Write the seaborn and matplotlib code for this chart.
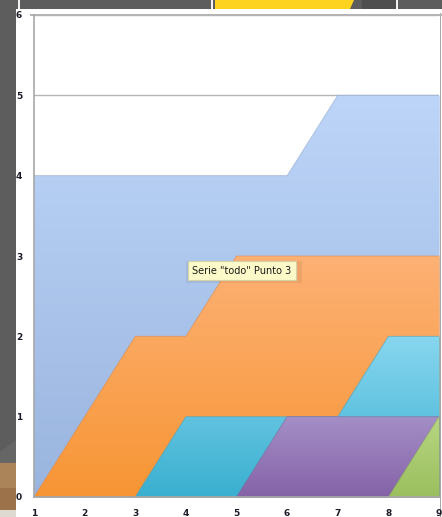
import numpy as np
import matplotlib
matplotlib.use("Agg")
import matplotlib.pyplot as plt
from matplotlib.patches import Rectangle, Polygon
from matplotlib.colors import LinearSegmentedColormap
import seaborn as sns

# Data: five overlapping area series over points 1..9
puntos = [1, 2, 3, 4, 5, 6, 7, 8, 9]
serie_azul = [4, 4, 4, 4, 4, 4, 5, 5, 5]
serie_todo = [0, 1, 2, 2, 3, 3, 3, 3, 3]
serie_cian = [0, 0, 0, 1, 1, 1, 1, 2, 2]
serie_morada = [0, 0, 0, 0, 0, 1, 1, 1, 1]
serie_verde = [0, 0, 0, 0, 0, 0, 0, 0, 1]
y_ticks = [0, 1, 2, 3, 4, 5, 6]

sns.set_style("white")
plt.rcParams["font.family"] = ["DejaVu Sans"]

W, H = 442, 517
fig = plt.figure(figsize=(W / 100, H / 100), dpi=100)

# Window surroundings drawn in pixel coordinates
bg = fig.add_axes([0, 0, 1, 1], zorder=-10)
bg.set_xlim(0, W)
bg.set_ylim(H, 0)
bg.axis("off")
bg.add_patch(Rectangle((0, 0), W, H, color="#5d5d5d", lw=0))
bg.add_patch(Rectangle((362, 0), 34, 9, color="#4f4f4f", lw=0))
bg.add_patch(Polygon([(215, 0), (354, 0), (350, 9), (215, 9)], color="#fdd31f", lw=0))
for xv in (18.5, 211.5, 396.5):
    bg.add_patch(Rectangle((xv - 1, 0), 2, 9, color="#f2f2f2", lw=0))
bg.add_patch(Polygon([(0, 463), (0, 452), (16, 440), (16, 463)], color="#666666", lw=0))
bg.add_patch(Rectangle((0, 463), 16, 25, color="#ab8559", lw=0))
bg.add_patch(Rectangle((0, 488), 16, 22, color="#9c724a", lw=0))
bg.add_patch(Rectangle((0, 510), 16, 7, color="#dedad2", lw=0))
bg.add_patch(Rectangle((16, 9), W - 16, H - 9, color="white", lw=0))
bg.add_patch(Rectangle((440, 13), 1.2, H - 13, color="#a8a8a8", lw=0))

# Plot area
x0, x1 = 34, 439
y0, y1 = 497, 15
ax = fig.add_axes([x0 / W, (H - y0) / H, (x1 - x0) / W, (y0 - y1) / H])
ax.set_facecolor("none")

series = [
    (serie_azul, "#bdd5f8", "#99b4de", "#8fa7cd"),
    (serie_todo, "#fdb175", "#f79534", "#d98a4c"),
    (serie_cian, "#88d6ef", "#3aafd0", "#4a9fb8"),
    (serie_morada, "#a48fc6", "#8562a7", "#7a6a98"),
    (serie_verde, "#b8d683", "#9bbf5e", "#8aa861"),
]

grad = np.linspace(0, 1, 256).reshape(-1, 1)
for i, (vals, c_top, c_bot, c_edge) in enumerate(series):
    z = 2 + i * 3
    poly = ax.fill_between(puntos, 0, vals, color=c_bot, lw=0, zorder=z)
    cmap = LinearSegmentedColormap.from_list(f"g{i}", [c_bot, c_top])
    im = ax.imshow(grad, extent=[1, 9, 0, max(vals)], origin="lower",
                   cmap=cmap, aspect="auto", zorder=z + 0.5, interpolation="bilinear")
    im.set_clip_path(poly.get_paths()[0], ax.transData)
    sns.lineplot(x=puntos, y=vals, ax=ax, color=c_edge, linewidth=0.7,
                 alpha=0.55, zorder=z + 1, legend=False)

ax.set_xlim(1, 9)
ax.set_ylim(0, 6)
ax.set_xticks(puntos)
ax.set_yticks(y_ticks)
ax.set_xlabel("")
ax.set_ylabel("")
ax.grid(axis="y", color="#b4b4b4", linewidth=1.0, zorder=0)
ax.set_axisbelow(True)
for s in ("top", "right"):
    ax.spines[s].set_visible(False)
for s in ("left", "bottom"):
    ax.spines[s].set_color("#a8a8a8")
    ax.spines[s].set_linewidth(1.2)
    ax.spines[s].set_zorder(30)
ax.tick_params(axis="both", length=3.5, width=1, color="#a8a8a8",
               labelsize=6.5, labelcolor="#1c1c28", pad=5)
for lab in ax.get_xticklabels() + ax.get_yticklabels():
    lab.set_fontweight("bold")

# Gridline at the top extends across the panel
bg.add_patch(Rectangle((30, 14.3), W - 30, 1.3, color="#b4b4b4", lw=0))

# Hover tooltip with a soft drop shadow
fig.add_artist(Rectangle((186 / W, 1 - 283 / H), 116 / W, 22 / H,
                         transform=fig.transFigure, facecolor="black",
                         alpha=0.06, lw=0, zorder=49))
fig.text(242 / W, 1 - 270.5 / H, 'Serie "todo" Punto 3', ha="center", va="center",
         fontsize=7.0, color="#1a1a1a", zorder=50,
         bbox=dict(boxstyle="square,pad=0.45", facecolor="#fcfac9",
                   edgecolor="#d6d2a6", linewidth=0.8))

fig.savefig("out.png", dpi=100)
